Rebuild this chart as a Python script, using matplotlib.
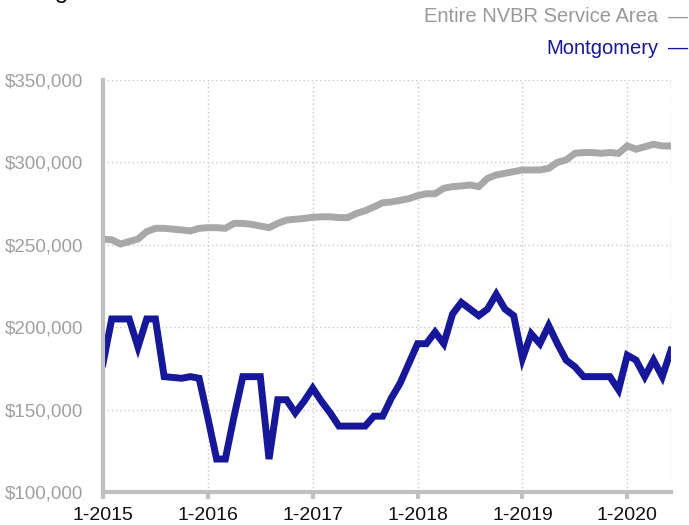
import matplotlib.pyplot as plt

# monthly data, Jan 2015 .. Jun 2020
months = list(range(66))

nvbr = [253.5, 253, 250.5, 252, 253.5, 258, 260, 260, 259.5, 259, 258.4, 260,
        260.4, 260.4, 260, 263, 263, 262.4, 261.4, 260.4, 263, 265, 265.5, 266,
        266.7, 267, 267, 266.5, 266.5, 269, 270.7, 273, 275.5, 276, 277, 278,
        279.8, 281, 281, 284.3, 285.3, 285.7, 286.3, 285.3, 290.3, 292.4, 293.4, 294.4,
        295.4, 295.4, 295.4, 296.4, 300, 301.5, 305.5, 306, 306, 305.5, 306, 305.5,
        310, 308, 309.5, 311, 310, 310]

montgomery = [178, 205, 205, 205, 188, 205, 205, 170, 169.5, 169, 170, 169,
              145, 120, 120, 146, 170, 170, 170, 120, 156, 156, 148, 155,
              163, 155, 148, 140, 140, 140, 140, 146, 146, 157, 166, 178,
              190, 190, 197, 190, 208, 215, 211, 207, 211, 220, 211, 207,
              181, 196, 190, 201, 190, 180, 176, 170, 170, 170, 170, 162,
              183, 180, 170, 180, 170, 186]

tick_pos = [0, 12, 24, 36, 48, 60]
tick_labels = ['1-2015', '1-2016', '1-2017', '1-2018', '1-2019', '1-2020']
y_ticks = [100, 150, 200, 250, 300, 350]

plt.rcParams['font.family'] = ['Liberation Sans', 'DejaVu Sans']

fig = plt.figure(figsize=(6.89, 5.25), dpi=100)
ax = fig.add_axes([103 / 689, 1 - 492 / 525, (671 - 103) / 689, (492 - 80) / 525])

grey = '#a8a8a8'
blue = '#17179a'

ax.plot(months, [v * 1000 for v in nvbr], color=grey, lw=5, solid_joinstyle='miter')
ax.plot(months, [v * 1000 for v in montgomery], color=blue, lw=5, solid_joinstyle='miter')

ax.set_xlim(0, 65)
ax.set_ylim(100000, 350000)
ax.set_xticks(tick_pos)
ax.set_xticklabels(tick_labels, fontsize=14, color='#111111')
ax.set_yticks([v * 1000 for v in y_ticks])
ax.set_yticklabels(['${:,}'.format(v * 1000) for v in y_ticks], fontsize=13.5, color='#a0a0a0')

ax.grid(True, linestyle=(0, (1, 2)), color='#c8c8c8', lw=1)
ax.axvline(65, linestyle=(0, (1, 2)), color='#c8c8c8', lw=1)

for s in ['top', 'right']:
    ax.spines[s].set_visible(False)
for s in ['left', 'bottom']:
    ax.spines[s].set_color('#c0c0c0')
    ax.spines[s].set_linewidth(3)

ax.tick_params(axis='x', length=5, width=3, color='#c0c0c0', pad=6)
ax.tick_params(axis='y', length=0, pad=14)

# legend drawn as text, right aligned
fig.text(658 / 689, 1 - 17 / 525, 'Entire NVBR Service Area', ha='right', va='center',
         fontsize=14.5, color='#999999')
fig.text(668 / 689, 1 - 17 / 525, '—', ha='left', va='center', fontsize=14.5, color='#999999')
fig.text(658 / 689, 1 - 48 / 525, 'Montgomery', ha='right', va='center',
         fontsize=14.5, color=blue)
fig.text(668 / 689, 1 - 48 / 525, '—', ha='left', va='center', fontsize=14.5, color=blue)

# title cut off at top edge
fig.text(-10 / 689, 1.003, 'Average Sales Price', ha='left', va='baseline',
         fontsize=18, color='#111111')

fig.savefig('out.png', dpi=100)
